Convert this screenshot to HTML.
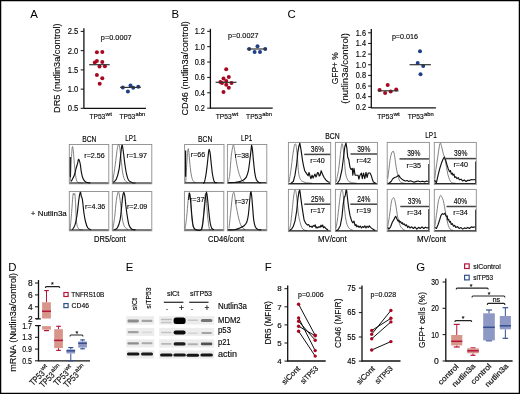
<!DOCTYPE html>
<html><head><meta charset="utf-8"><title>Figure</title>
<style>
html,body{margin:0;padding:0;background:#fff;}
body{width:520px;height:394px;overflow:hidden;font-family:"Liberation Sans",sans-serif;}
svg{display:block;will-change:transform;}
svg text{font-family:"Liberation Sans",sans-serif;}
</style></head>
<body>
<svg width="520" height="394" viewBox="0 0 520 394" font-family="Liberation Sans, sans-serif">
<rect x="0" y="0" width="520" height="394" fill="#fff"/>
<text id="t0" x="30.20" y="17.60" font-size="11.4" >A</text>
<line x1="83.90" y1="28.20" x2="83.90" y2="108.60" stroke="#111" stroke-width="1.3"/>
<line x1="80.70" y1="31.40" x2="83.90" y2="31.40" stroke="#111" stroke-width="1.0"/>
<text id="t1" x="78.30" y="34.32" font-size="8.6" text-anchor="end" textLength="10.60" lengthAdjust="spacingAndGlyphs" stroke="#111" stroke-width="0.15" >2.5</text>
<line x1="80.70" y1="50.65" x2="83.90" y2="50.65" stroke="#111" stroke-width="1.0"/>
<text id="t2" x="78.30" y="53.57" font-size="8.6" text-anchor="end" textLength="10.60" lengthAdjust="spacingAndGlyphs" stroke="#111" stroke-width="0.15" >2.0</text>
<line x1="80.70" y1="69.90" x2="83.90" y2="69.90" stroke="#111" stroke-width="1.0"/>
<text id="t3" x="78.30" y="72.82" font-size="8.6" text-anchor="end" textLength="10.60" lengthAdjust="spacingAndGlyphs" stroke="#111" stroke-width="0.15" >1.5</text>
<line x1="80.70" y1="89.15" x2="83.90" y2="89.15" stroke="#111" stroke-width="1.0"/>
<text id="t4" x="78.30" y="92.07" font-size="8.6" text-anchor="end" textLength="10.60" lengthAdjust="spacingAndGlyphs" stroke="#111" stroke-width="0.15" >1.0</text>
<line x1="80.70" y1="108.30" x2="83.90" y2="108.30" stroke="#111" stroke-width="1.0"/>
<text id="t5" x="78.30" y="111.22" font-size="8.6" text-anchor="end" textLength="10.60" lengthAdjust="spacingAndGlyphs" stroke="#111" stroke-width="0.15" >0.5</text>
<line x1="83.90" y1="108.30" x2="146.00" y2="108.30" stroke="#111" stroke-width="1.3"/>
<text id="t6" x="60.50" y="112.90" font-size="9.2" textLength="89.40" lengthAdjust="spacingAndGlyphs" transform="rotate(-90 60.50 112.90)" stroke="#111" stroke-width="0.1" >DR5 (nutlin3a/control)</text>
<text id="t7" x="100.80" y="40.40" font-size="7.6" textLength="30.90" lengthAdjust="spacingAndGlyphs" stroke="#111" stroke-width="0.15" >p=0.0007</text>
<circle cx="96.90" cy="52.30" r="2.0" fill="#a8081f"/>
<circle cx="102.30" cy="52.10" r="2.0" fill="#a8081f"/>
<circle cx="94.80" cy="62.40" r="2.0" fill="#a8081f"/>
<circle cx="96.90" cy="61.00" r="2.0" fill="#a8081f"/>
<circle cx="102.30" cy="61.90" r="2.0" fill="#a8081f"/>
<circle cx="99.50" cy="66.50" r="2.0" fill="#a8081f"/>
<circle cx="104.90" cy="66.20" r="2.0" fill="#a8081f"/>
<circle cx="96.90" cy="75.10" r="2.0" fill="#a8081f"/>
<circle cx="102.30" cy="78.20" r="2.0" fill="#a8081f"/>
<circle cx="99.70" cy="83.80" r="2.0" fill="#a8081f"/>
<line x1="89.20" y1="64.70" x2="109.70" y2="64.70" stroke="#333" stroke-width="1.2"/>
<circle cx="122.80" cy="87.50" r="2.0" fill="#1f3f86"/>
<circle cx="127.90" cy="91.50" r="2.0" fill="#1f3f86"/>
<circle cx="130.50" cy="85.50" r="2.0" fill="#1f3f86"/>
<circle cx="133.20" cy="87.80" r="2.0" fill="#1f3f86"/>
<circle cx="138.30" cy="86.80" r="2.0" fill="#1f3f86"/>
<line x1="120.10" y1="87.40" x2="140.80" y2="87.40" stroke="#333" stroke-width="1.2"/>
<text id="t8" x="89.40" y="119.00" font-size="8.0" textLength="15.90" lengthAdjust="spacingAndGlyphs" stroke="#111" stroke-width="0.15" >TP53</text>
<text id="t9" x="105.60" y="115.60" font-size="5.0" textLength="6.30" lengthAdjust="spacingAndGlyphs" stroke="#111" stroke-width="0.15" >wt</text>
<text id="t10" x="119.40" y="119.00" font-size="8.0" textLength="15.90" lengthAdjust="spacingAndGlyphs" stroke="#111" stroke-width="0.15" >TP53</text>
<text id="t11" x="135.60" y="115.60" font-size="5.0" textLength="9.60" lengthAdjust="spacingAndGlyphs" stroke="#111" stroke-width="0.15" >abn</text>
<text id="t12" x="171.60" y="17.70" font-size="11.4" >B</text>
<line x1="210.40" y1="28.80" x2="210.40" y2="108.70" stroke="#111" stroke-width="1.3"/>
<line x1="207.20" y1="31.30" x2="210.40" y2="31.30" stroke="#111" stroke-width="1.0"/>
<text id="t13" x="204.90" y="34.22" font-size="8.6" text-anchor="end" textLength="10.20" lengthAdjust="spacingAndGlyphs" stroke="#111" stroke-width="0.15" >1.2</text>
<line x1="207.20" y1="46.67" x2="210.40" y2="46.67" stroke="#111" stroke-width="1.0"/>
<text id="t14" x="204.90" y="49.59" font-size="8.6" text-anchor="end" textLength="10.20" lengthAdjust="spacingAndGlyphs" stroke="#111" stroke-width="0.15" >1.0</text>
<line x1="207.20" y1="62.04" x2="210.40" y2="62.04" stroke="#111" stroke-width="1.0"/>
<text id="t15" x="204.90" y="64.96" font-size="8.6" text-anchor="end" textLength="10.20" lengthAdjust="spacingAndGlyphs" stroke="#111" stroke-width="0.15" >0.8</text>
<line x1="207.20" y1="77.41" x2="210.40" y2="77.41" stroke="#111" stroke-width="1.0"/>
<text id="t16" x="204.90" y="80.33" font-size="8.6" text-anchor="end" textLength="10.20" lengthAdjust="spacingAndGlyphs" stroke="#111" stroke-width="0.15" >0.6</text>
<line x1="207.20" y1="92.78" x2="210.40" y2="92.78" stroke="#111" stroke-width="1.0"/>
<text id="t17" x="204.90" y="95.70" font-size="8.6" text-anchor="end" textLength="10.20" lengthAdjust="spacingAndGlyphs" stroke="#111" stroke-width="0.15" >0.4</text>
<line x1="207.20" y1="108.15" x2="210.40" y2="108.15" stroke="#111" stroke-width="1.0"/>
<text id="t18" x="204.90" y="111.07" font-size="8.6" text-anchor="end" textLength="10.20" lengthAdjust="spacingAndGlyphs" stroke="#111" stroke-width="0.15" >0.2</text>
<line x1="210.40" y1="108.20" x2="272.70" y2="108.20" stroke="#111" stroke-width="1.3"/>
<text id="t19" x="187.70" y="115.60" font-size="9.0" textLength="94.40" lengthAdjust="spacingAndGlyphs" transform="rotate(-90 187.70 115.60)" stroke="#111" stroke-width="0.1" >CD46 (nutlin3a/control)</text>
<text id="t20" x="228.00" y="38.30" font-size="7.6" textLength="30.50" lengthAdjust="spacingAndGlyphs" stroke="#111" stroke-width="0.15" >p=0.0027</text>
<circle cx="226.20" cy="69.20" r="2.0" fill="#a8081f"/>
<circle cx="223.50" cy="78.50" r="2.0" fill="#a8081f"/>
<circle cx="228.80" cy="77.10" r="2.0" fill="#a8081f"/>
<circle cx="220.40" cy="81.90" r="2.0" fill="#a8081f"/>
<circle cx="222.00" cy="82.90" r="2.0" fill="#a8081f"/>
<circle cx="226.20" cy="81.00" r="2.0" fill="#a8081f"/>
<circle cx="231.50" cy="82.90" r="2.0" fill="#a8081f"/>
<circle cx="226.20" cy="84.80" r="2.0" fill="#a8081f"/>
<circle cx="228.80" cy="87.70" r="2.0" fill="#a8081f"/>
<circle cx="223.50" cy="92.10" r="2.0" fill="#a8081f"/>
<line x1="215.60" y1="82.30" x2="236.50" y2="82.30" stroke="#333" stroke-width="1.2"/>
<circle cx="249.20" cy="49.00" r="2.0" fill="#1f3f86"/>
<circle cx="254.60" cy="51.90" r="2.0" fill="#1f3f86"/>
<circle cx="257.50" cy="46.20" r="2.0" fill="#1f3f86"/>
<circle cx="260.00" cy="51.90" r="2.0" fill="#1f3f86"/>
<circle cx="265.20" cy="49.00" r="2.0" fill="#1f3f86"/>
<line x1="246.90" y1="49.00" x2="267.00" y2="49.00" stroke="#333" stroke-width="1.2"/>
<text id="t21" x="215.80" y="119.20" font-size="8.0" textLength="15.90" lengthAdjust="spacingAndGlyphs" stroke="#111" stroke-width="0.15" >TP53</text>
<text id="t22" x="232.00" y="115.80" font-size="5.0" textLength="6.30" lengthAdjust="spacingAndGlyphs" stroke="#111" stroke-width="0.15" >wt</text>
<text id="t23" x="246.10" y="119.20" font-size="8.0" textLength="15.90" lengthAdjust="spacingAndGlyphs" stroke="#111" stroke-width="0.15" >TP53</text>
<text id="t24" x="262.30" y="115.80" font-size="5.0" textLength="9.60" lengthAdjust="spacingAndGlyphs" stroke="#111" stroke-width="0.15" >abn</text>
<text id="t25" x="287.60" y="17.70" font-size="11.4" >C</text>
<line x1="371.30" y1="29.00" x2="371.30" y2="108.30" stroke="#111" stroke-width="1.3"/>
<line x1="368.10" y1="32.80" x2="371.30" y2="32.80" stroke="#111" stroke-width="1.0"/>
<text id="t26" x="366.00" y="35.59" font-size="8.2" text-anchor="end" textLength="10.20" lengthAdjust="spacingAndGlyphs" stroke="#111" stroke-width="0.15" >1.6</text>
<line x1="368.10" y1="43.45" x2="371.30" y2="43.45" stroke="#111" stroke-width="1.0"/>
<text id="t27" x="366.00" y="46.24" font-size="8.2" text-anchor="end" textLength="10.20" lengthAdjust="spacingAndGlyphs" stroke="#111" stroke-width="0.15" >1.4</text>
<line x1="368.10" y1="54.10" x2="371.30" y2="54.10" stroke="#111" stroke-width="1.0"/>
<text id="t28" x="366.00" y="56.89" font-size="8.2" text-anchor="end" textLength="10.20" lengthAdjust="spacingAndGlyphs" stroke="#111" stroke-width="0.15" >1.2</text>
<line x1="368.10" y1="64.75" x2="371.30" y2="64.75" stroke="#111" stroke-width="1.0"/>
<text id="t29" x="366.00" y="67.54" font-size="8.2" text-anchor="end" textLength="10.20" lengthAdjust="spacingAndGlyphs" stroke="#111" stroke-width="0.15" >1.0</text>
<line x1="368.10" y1="75.40" x2="371.30" y2="75.40" stroke="#111" stroke-width="1.0"/>
<text id="t30" x="366.00" y="78.19" font-size="8.2" text-anchor="end" textLength="10.20" lengthAdjust="spacingAndGlyphs" stroke="#111" stroke-width="0.15" >0.8</text>
<line x1="368.10" y1="86.05" x2="371.30" y2="86.05" stroke="#111" stroke-width="1.0"/>
<text id="t31" x="366.00" y="88.84" font-size="8.2" text-anchor="end" textLength="10.20" lengthAdjust="spacingAndGlyphs" stroke="#111" stroke-width="0.15" >0.6</text>
<line x1="368.10" y1="96.70" x2="371.30" y2="96.70" stroke="#111" stroke-width="1.0"/>
<text id="t32" x="366.00" y="99.49" font-size="8.2" text-anchor="end" textLength="10.20" lengthAdjust="spacingAndGlyphs" stroke="#111" stroke-width="0.15" >0.4</text>
<line x1="368.10" y1="107.35" x2="371.30" y2="107.35" stroke="#111" stroke-width="1.0"/>
<text id="t33" x="366.00" y="110.14" font-size="8.2" text-anchor="end" textLength="10.20" lengthAdjust="spacingAndGlyphs" stroke="#111" stroke-width="0.15" >0.2</text>
<line x1="371.30" y1="107.80" x2="435.90" y2="107.80" stroke="#111" stroke-width="1.3"/>
<text id="t34" x="337.70" y="84.20" font-size="9.2" textLength="31.90" lengthAdjust="spacingAndGlyphs" transform="rotate(-90 337.70 84.20)" stroke="#111" stroke-width="0.1" >GFP+ %</text>
<text id="t35" x="348.40" y="103.70" font-size="9.2" textLength="70.70" lengthAdjust="spacingAndGlyphs" transform="rotate(-90 348.40 103.70)" stroke="#111" stroke-width="0.1" >(nutlin3a/control)</text>
<text id="t36" x="391.90" y="39.20" font-size="7.6" textLength="26.10" lengthAdjust="spacingAndGlyphs" stroke="#111" stroke-width="0.15" >p=0.016</text>
<circle cx="379.60" cy="90.10" r="2.0" fill="#a8081f"/>
<circle cx="385.10" cy="93.10" r="2.0" fill="#a8081f"/>
<circle cx="387.70" cy="85.00" r="2.0" fill="#a8081f"/>
<circle cx="390.70" cy="91.50" r="2.0" fill="#a8081f"/>
<circle cx="396.20" cy="89.60" r="2.0" fill="#a8081f"/>
<line x1="377.70" y1="90.80" x2="398.50" y2="90.80" stroke="#333" stroke-width="1.2"/>
<circle cx="420.00" cy="51.20" r="2.0" fill="#1f3f86"/>
<circle cx="417.70" cy="63.10" r="2.0" fill="#1f3f86"/>
<circle cx="423.20" cy="66.10" r="2.0" fill="#1f3f86"/>
<circle cx="420.50" cy="74.20" r="2.0" fill="#1f3f86"/>
<line x1="409.60" y1="64.70" x2="430.90" y2="64.70" stroke="#333" stroke-width="1.2"/>
<text id="t37" x="377.30" y="119.20" font-size="8.0" textLength="15.90" lengthAdjust="spacingAndGlyphs" stroke="#111" stroke-width="0.15" >TP53</text>
<text id="t38" x="393.50" y="115.80" font-size="5.0" textLength="6.30" lengthAdjust="spacingAndGlyphs" stroke="#111" stroke-width="0.15" >wt</text>
<text id="t39" x="407.80" y="119.20" font-size="8.0" textLength="15.90" lengthAdjust="spacingAndGlyphs" stroke="#111" stroke-width="0.15" >TP53</text>
<text id="t40" x="424.00" y="115.80" font-size="5.0" textLength="9.60" lengthAdjust="spacingAndGlyphs" stroke="#111" stroke-width="0.15" >abn</text>
<rect x="69.30" y="144.50" width="39.50" height="39.30" fill="none" stroke="#8c8c8c" stroke-width="0.9"/>
<path d="M70.30,181.40 C70.53,176.78 71.33,159.52 71.70,153.70 C72.07,147.88 72.22,146.78 72.50,146.50 C72.78,146.22 73.08,149.03 73.40,152.00 C73.72,154.97 73.97,159.93 74.40,164.30 C74.83,168.67 75.38,175.18 76.00,178.20 C76.62,181.22 76.93,181.58 78.10,182.40 C79.27,183.22 82.18,182.98 83.00,183.10" fill="none" stroke="#727272" stroke-width="0.9"/>
<line x1="69.80" y1="182.90" x2="108.30" y2="182.90" stroke="#111" stroke-width="0.9"/>
<path d="M71.20,181.60 C71.73,180.50 73.60,177.17 74.40,175.00 C75.20,172.83 75.47,170.55 76.00,168.60 C76.53,166.65 77.15,164.85 77.60,163.30 C78.05,161.75 78.25,159.13 78.70,159.30 C79.15,159.47 79.87,162.22 80.30,164.30 C80.73,166.38 80.87,169.48 81.30,171.80 C81.73,174.12 82.18,176.52 82.90,178.20 C83.62,179.88 84.35,181.10 85.60,181.90 C86.85,182.70 89.60,182.82 90.40,183.00" fill="none" stroke="#111" stroke-width="1.15" stroke-linejoin="round"/>
<line x1="70.30" y1="157.00" x2="70.30" y2="176.90" stroke="#111" stroke-width="1.2"/>
<rect x="112.30" y="144.50" width="39.50" height="39.30" fill="none" stroke="#8c8c8c" stroke-width="0.9"/>
<path d="M112.80,181.40 C113.22,178.55 114.62,169.28 115.30,164.30 C115.98,159.32 116.42,154.70 116.90,151.50 C117.38,148.30 117.77,145.98 118.20,145.10 C118.63,144.22 119.02,143.88 119.50,146.20 C119.98,148.52 120.57,154.55 121.10,159.00 C121.63,163.45 122.07,169.35 122.70,172.90 C123.33,176.45 124.00,178.67 124.90,180.30 C125.80,181.93 127.57,182.30 128.10,182.70" fill="none" stroke="#727272" stroke-width="0.9"/>
<line x1="112.80" y1="182.90" x2="151.30" y2="182.90" stroke="#111" stroke-width="0.9"/>
<path d="M113.10,182.40 C113.63,181.87 115.32,181.32 116.30,179.20 C117.28,177.08 118.28,173.60 119.00,169.70 C119.72,165.80 120.10,159.90 120.60,155.80 C121.10,151.70 121.55,145.82 122.00,145.10 C122.45,144.38 122.82,148.30 123.30,151.50 C123.78,154.70 124.37,160.57 124.90,164.30 C125.43,168.03 125.88,171.23 126.50,173.90 C127.12,176.57 127.63,178.83 128.60,180.30 C129.57,181.77 131.15,182.25 132.30,182.70 C133.45,183.15 134.97,182.95 135.50,183.00" fill="none" stroke="#111" stroke-width="1.15" stroke-linejoin="round"/>
<rect x="69.30" y="191.50" width="39.50" height="39.30" fill="none" stroke="#8c8c8c" stroke-width="0.9"/>
<path d="M70.10,229.40 C70.37,226.38 71.25,216.80 71.70,211.30 C72.15,205.80 72.50,199.42 72.80,196.40 C73.10,193.38 73.27,193.43 73.50,193.20 C73.73,192.97 73.97,194.82 74.20,195.00 C74.43,195.18 74.65,192.47 74.90,194.30 C75.15,196.13 75.43,201.38 75.70,206.00 C75.97,210.62 76.00,218.18 76.50,222.00 C77.00,225.82 77.63,227.57 78.70,228.90 C79.77,230.23 82.20,229.82 82.90,230.00" fill="none" stroke="#727272" stroke-width="0.9"/>
<line x1="69.80" y1="229.90" x2="108.30" y2="229.90" stroke="#111" stroke-width="0.9"/>
<path d="M72.30,229.70 C72.73,228.95 74.10,227.73 74.90,225.20 C75.70,222.67 76.47,218.58 77.10,214.50 C77.73,210.42 78.27,204.07 78.70,200.70 C79.13,197.33 79.38,195.70 79.70,194.30 C80.02,192.90 80.33,191.95 80.60,192.30 C80.87,192.65 81.00,195.18 81.30,196.40 C81.60,197.62 81.95,196.75 82.40,199.60 C82.85,202.45 83.47,209.77 84.00,213.50 C84.53,217.23 84.98,219.62 85.60,222.00 C86.22,224.38 86.82,226.48 87.70,227.80 C88.58,229.12 90.37,229.55 90.90,229.90" fill="none" stroke="#111" stroke-width="1.15" stroke-linejoin="round"/>
<rect x="112.30" y="191.50" width="39.50" height="39.30" fill="none" stroke="#8c8c8c" stroke-width="0.9"/>
<path d="M112.90,228.90 C113.20,226.87 114.13,221.40 114.70,216.70 C115.27,212.00 115.77,204.70 116.30,200.70 C116.83,196.70 117.45,193.95 117.90,192.70 C118.35,191.45 118.55,191.33 119.00,193.20 C119.45,195.07 120.07,199.82 120.60,203.90 C121.13,207.98 121.58,213.98 122.20,217.70 C122.82,221.42 123.32,224.20 124.30,226.20 C125.28,228.20 127.47,229.12 128.10,229.70" fill="none" stroke="#727272" stroke-width="0.9"/>
<line x1="112.80" y1="229.90" x2="151.30" y2="229.90" stroke="#111" stroke-width="0.9"/>
<path d="M114.20,229.90 C114.73,229.55 116.42,229.47 117.40,227.80 C118.38,226.13 119.38,223.53 120.10,219.90 C120.82,216.27 121.27,209.92 121.70,206.00 C122.13,202.08 122.35,198.68 122.70,196.40 C123.05,194.12 123.43,192.30 123.80,192.30 C124.17,192.30 124.55,194.12 124.90,196.40 C125.25,198.68 125.47,202.45 125.90,206.00 C126.33,209.55 126.97,214.50 127.50,217.70 C128.03,220.90 128.38,223.28 129.10,225.20 C129.82,227.12 130.73,228.42 131.80,229.20 C132.87,229.98 134.88,229.78 135.50,229.90" fill="none" stroke="#111" stroke-width="1.15" stroke-linejoin="round"/>
<rect x="184.60" y="144.50" width="39.40" height="39.10" fill="none" stroke="#8c8c8c" stroke-width="0.9"/>
<path d="M185.70,182.40 C185.93,178.50 186.70,164.58 187.10,159.00 C187.50,153.42 187.80,149.97 188.10,148.90 C188.40,147.83 188.60,150.03 188.90,152.60 C189.20,155.17 189.50,160.57 189.90,164.30 C190.30,168.03 190.77,172.25 191.30,175.00 C191.83,177.75 192.35,179.52 193.10,180.80 C193.85,182.08 195.35,182.38 195.80,182.70" fill="none" stroke="#727272" stroke-width="0.9"/>
<line x1="185.10" y1="182.70" x2="223.50" y2="182.70" stroke="#111" stroke-width="0.9"/>
<path d="M203.00,182.80 C203.22,182.73 203.82,183.70 204.30,182.40 C204.78,181.10 205.40,178.02 205.90,175.00 C206.40,171.98 206.88,167.85 207.30,164.30 C207.72,160.75 208.10,156.18 208.40,153.70 C208.70,151.22 208.80,149.40 209.10,149.40 C209.40,149.40 209.83,151.22 210.20,153.70 C210.57,156.18 210.90,160.75 211.30,164.30 C211.70,167.85 212.08,172.07 212.60,175.00 C213.12,177.93 213.65,180.60 214.40,181.90 C215.15,183.20 216.65,182.65 217.10,182.80" fill="none" stroke="#111" stroke-width="1.15" stroke-linejoin="round"/>
<line x1="185.60" y1="150.50" x2="185.60" y2="176.70" stroke="#111" stroke-width="1.2"/>
<rect x="227.40" y="144.50" width="39.40" height="39.00" fill="none" stroke="#8c8c8c" stroke-width="0.9"/>
<path d="M228.10,181.90 C228.37,180.75 229.17,179.35 229.70,175.00 C230.23,170.65 230.72,160.75 231.30,155.80 C231.88,150.85 232.67,146.37 233.20,145.30 C233.73,144.23 234.02,146.93 234.50,149.40 C234.98,151.87 235.57,156.90 236.10,160.10 C236.63,163.30 237.07,165.95 237.70,168.60 C238.33,171.25 239.18,174.05 239.90,176.00 C240.62,177.95 241.20,179.23 242.00,180.30 C242.80,181.37 244.25,182.05 244.70,182.40" fill="none" stroke="#727272" stroke-width="0.9"/>
<line x1="227.90" y1="182.60" x2="266.30" y2="182.60" stroke="#111" stroke-width="0.9"/>
<path d="M228.10,182.70 C229.17,182.67 232.72,182.63 234.50,182.50 C236.28,182.37 237.37,182.27 238.80,181.90 C240.23,181.53 241.85,181.10 243.10,180.30 C244.35,179.50 245.42,178.70 246.30,177.10 C247.18,175.50 247.78,173.72 248.40,170.70 C249.02,167.68 249.55,162.55 250.00,159.00 C250.45,155.45 250.83,151.72 251.10,149.40 C251.37,147.08 251.38,145.10 251.60,145.10 C251.82,145.10 252.08,146.73 252.40,149.40 C252.72,152.07 253.10,157.18 253.50,161.10 C253.90,165.02 254.32,169.78 254.80,172.90 C255.28,176.02 255.70,178.20 256.40,179.80 C257.10,181.40 258.20,182.02 259.00,182.50 C259.80,182.98 260.83,182.67 261.20,182.70" fill="none" stroke="#111" stroke-width="1.15" stroke-linejoin="round"/>
<rect x="184.40" y="191.40" width="39.40" height="39.40" fill="none" stroke="#8c8c8c" stroke-width="0.9"/>
<path d="M185.10,228.90 C185.37,226.87 186.20,221.40 186.70,216.70 C187.20,212.00 187.68,204.70 188.10,200.70 C188.52,196.70 188.80,192.70 189.20,192.70 C189.60,192.70 190.08,196.70 190.50,200.70 C190.92,204.70 191.27,212.45 191.70,216.70 C192.13,220.95 192.50,224.08 193.10,226.20 C193.70,228.32 194.93,228.87 195.30,229.40" fill="none" stroke="#727272" stroke-width="0.9"/>
<path d="M201.50,229.50 C201.75,227.92 202.53,224.08 203.00,220.00 C203.47,215.92 203.90,209.42 204.30,205.00 C204.70,200.58 205.05,194.33 205.40,193.50 C205.75,192.67 206.03,196.25 206.40,200.00 C206.77,203.75 207.12,211.25 207.60,216.00 C208.08,220.75 208.73,226.20 209.30,228.50 C209.87,230.80 210.72,229.58 211.00,229.80" fill="none" stroke="#727272" stroke-width="0.9"/>
<line x1="184.90" y1="229.90" x2="223.30" y2="229.90" stroke="#111" stroke-width="0.9"/>
<path d="M188.60,200.00 C188.77,198.87 189.25,193.03 189.60,193.20 C189.95,193.37 190.32,197.20 190.70,201.00 C191.08,204.80 191.47,211.75 191.90,216.00 C192.33,220.25 192.70,224.23 193.30,226.50 C193.90,228.77 194.20,229.07 195.50,229.60 C196.80,230.13 199.90,230.62 201.10,229.70 C202.30,228.78 202.20,227.17 202.70,224.10 C203.20,221.03 203.65,215.57 204.10,211.30 C204.55,207.03 205.00,201.70 205.40,198.50 C205.80,195.30 206.15,192.10 206.50,192.10 C206.85,192.10 207.12,195.30 207.50,198.50 C207.88,201.70 208.35,207.22 208.80,211.30 C209.25,215.38 209.70,220.15 210.20,223.00 C210.70,225.85 211.18,227.27 211.80,228.40 C212.42,229.53 213.55,229.57 213.90,229.80" fill="none" stroke="#111" stroke-width="1.15" stroke-linejoin="round"/>
<rect x="227.40" y="191.40" width="39.40" height="39.40" fill="none" stroke="#8c8c8c" stroke-width="0.9"/>
<path d="M229.00,228.40 C229.30,225.55 230.23,216.63 230.80,211.30 C231.37,205.97 231.92,199.57 232.40,196.40 C232.88,193.23 233.35,192.65 233.70,192.30 C234.05,191.95 234.15,192.37 234.50,194.30 C234.85,196.23 235.35,201.07 235.80,203.90 C236.25,206.73 236.70,208.82 237.20,211.30 C237.70,213.78 238.27,216.67 238.80,218.80 C239.33,220.93 239.78,222.60 240.40,224.10 C241.02,225.60 241.70,226.87 242.50,227.80 C243.30,228.73 244.75,229.38 245.20,229.70" fill="none" stroke="#727272" stroke-width="0.9"/>
<line x1="227.90" y1="229.90" x2="266.30" y2="229.90" stroke="#111" stroke-width="0.9"/>
<path d="M228.10,229.90 C229.17,229.88 232.72,230.05 234.50,229.80 C236.28,229.55 237.20,229.08 238.80,228.40 C240.40,227.72 242.77,226.77 244.10,225.70 C245.43,224.63 246.08,223.87 246.80,222.00 C247.52,220.13 247.92,218.05 248.40,214.50 C248.88,210.95 249.32,204.43 249.70,200.70 C250.08,196.97 250.38,193.00 250.70,192.10 C251.02,191.20 251.27,192.63 251.60,195.30 C251.93,197.97 252.35,204.00 252.70,208.10 C253.05,212.20 253.27,216.78 253.70,219.90 C254.13,223.02 254.58,225.18 255.30,226.80 C256.02,228.42 257.02,229.08 258.00,229.60 C258.98,230.12 260.67,229.85 261.20,229.90" fill="none" stroke="#111" stroke-width="1.15" stroke-linejoin="round"/>
<rect x="288.40" y="142.40" width="42.30" height="42.00" fill="none" stroke="#8c8c8c" stroke-width="0.9"/>
<path d="M289.10,182.10 C289.42,180.00 290.40,173.88 291.00,169.50 C291.60,165.12 292.13,159.78 292.70,155.80 C293.27,151.82 293.98,147.58 294.40,145.60 C294.82,143.62 294.92,143.90 295.20,143.90 C295.48,143.90 295.75,143.62 296.10,145.60 C296.45,147.58 296.92,151.62 297.30,155.80 C297.68,159.98 298.02,167.08 298.40,170.70 C298.78,174.32 299.03,175.78 299.60,177.50 C300.17,179.22 300.67,180.13 301.80,181.00 C302.93,181.87 304.68,182.33 306.40,182.70 C308.12,183.07 311.15,183.12 312.10,183.20" fill="none" stroke="#727272" stroke-width="0.9"/>
<line x1="288.90" y1="183.50" x2="330.20" y2="183.50" stroke="#111" stroke-width="0.9"/>
<path d="M291.00,183.20 L293.30,181.50 L295.00,175.20 L296.70,163.80 L297.80,152.40 L299.00,145.60 L299.80,143.10 L300.70,147.80 L301.60,153.60 L302.40,159.80 L303.60,166.10 L304.70,170.70 L305.80,172.40 L307.00,174.10 L308.10,175.80 L309.00,172.50 L309.80,175.20 L311.00,178.70 L312.10,175.20 L313.10,178.00 L313.80,176.40 L315.00,174.10 L316.00,177.00 L316.70,175.20 L317.60,172.50 L318.40,173.00 L319.20,176.00 L320.10,175.20 L321.20,170.70 L322.40,174.10 L324.10,177.50 L325.80,179.80 L327.50,181.50 L329.80,182.60" fill="none" stroke="#111" stroke-width="1.15" stroke-linejoin="round"/>
<rect x="335.40" y="142.40" width="42.00" height="42.00" fill="none" stroke="#8c8c8c" stroke-width="0.9"/>
<path d="M336.10,182.10 C336.52,180.00 337.90,174.07 338.60,169.50 C339.30,164.93 339.77,158.97 340.30,154.70 C340.83,150.43 341.33,145.05 341.80,143.90 C342.27,142.75 342.68,145.23 343.10,147.80 C343.52,150.37 343.92,155.30 344.30,159.30 C344.68,163.30 344.93,168.57 345.40,171.80 C345.87,175.03 346.33,176.98 347.10,178.70 C347.87,180.42 348.38,181.33 350.00,182.10 C351.62,182.87 355.67,183.10 356.80,183.30" fill="none" stroke="#727272" stroke-width="0.9"/>
<line x1="335.90" y1="183.50" x2="376.90" y2="183.50" stroke="#111" stroke-width="0.9"/>
<path d="M337.40,183.20 L339.70,179.80 L342.00,169.50 L343.70,155.80 L344.80,146.70 L346.00,143.00 L346.80,147.80 L347.70,157.00 L348.80,159.80 L350.00,167.30 L351.10,169.50 L352.30,168.40 L352.80,175.20 L354.00,168.40 L355.10,175.20 L356.80,175.20 L358.00,175.20 L358.90,179.20 L360.00,175.20 L361.40,173.00 L362.30,178.70 L363.50,173.00 L364.80,178.70 L366.00,172.40 L367.10,177.50 L368.20,173.00 L370.00,173.00 L371.10,175.20 L372.20,178.70 L373.40,182.10 L375.70,183.30" fill="none" stroke="#111" stroke-width="1.15" stroke-linejoin="round"/>
<rect x="387.20" y="142.40" width="42.20" height="42.00" fill="none" stroke="#8c8c8c" stroke-width="0.9"/>
<path d="M387.70,178.70 C387.90,177.17 388.52,172.55 388.90,169.50 C389.28,166.45 389.63,162.87 390.00,160.40 C390.37,157.93 390.72,156.13 391.10,154.70 C391.48,153.27 391.92,152.37 392.30,151.80 C392.68,151.23 393.02,150.63 393.40,151.30 C393.78,151.97 394.22,153.72 394.60,155.80 C394.98,157.88 395.33,161.32 395.70,163.80 C396.07,166.28 396.42,168.80 396.80,170.70 C397.18,172.60 397.62,173.68 398.00,175.20 C398.38,176.72 398.63,178.65 399.10,179.80 C399.57,180.95 399.93,181.52 400.80,182.10 C401.67,182.68 403.72,183.10 404.30,183.30" fill="none" stroke="#727272" stroke-width="0.9"/>
<line x1="387.70" y1="183.50" x2="428.90" y2="183.50" stroke="#111" stroke-width="0.9"/>
<path d="M387.70,183.30 L389.40,183.00 L391.10,181.50 L392.80,178.70 L394.60,177.50 L396.30,177.00 L398.00,175.80 L398.80,175.20 L399.70,177.00 L400.80,178.10 L402.00,179.20 L403.70,180.40 L405.40,181.00 L407.00,180.50 L408.80,181.50 L410.50,180.80 L412.30,181.50 L414.00,182.20 L415.70,181.60 L418.00,181.00 L420.20,181.80 L422.50,181.20 L424.80,181.90 L426.50,181.00 L428.50,181.50" fill="none" stroke="#111" stroke-width="1.15" stroke-linejoin="round"/>
<line x1="428.60" y1="164.00" x2="428.60" y2="183.50" stroke="#333" stroke-width="0.9"/>
<rect x="434.30" y="142.40" width="42.00" height="42.00" fill="none" stroke="#8c8c8c" stroke-width="0.9"/>
<path d="M434.80,178.70 C434.98,177.17 435.43,172.93 435.90,169.50 C436.37,166.07 437.03,161.90 437.60,158.10 C438.17,154.30 438.83,149.22 439.30,146.70 C439.77,144.18 440.02,143.00 440.40,143.00 C440.78,143.00 441.12,144.93 441.60,146.70 C442.08,148.47 442.73,151.50 443.30,153.60 C443.87,155.70 444.47,157.02 445.00,159.30 C445.53,161.58 446.03,164.83 446.50,167.30 C446.97,169.77 447.28,172.02 447.80,174.10 C448.32,176.18 448.93,178.37 449.60,179.80 C450.27,181.23 450.77,182.12 451.80,182.70 C452.83,183.28 455.13,183.20 455.80,183.30" fill="none" stroke="#727272" stroke-width="0.9"/>
<line x1="434.80" y1="183.50" x2="475.80" y2="183.50" stroke="#111" stroke-width="0.9"/>
<path d="M434.80,179.80 L435.30,181.50 L436.40,182.70 L438.10,175.20 L439.80,168.40 L441.60,162.70 L443.00,159.30 L444.40,157.00 L445.60,159.80 L446.70,163.80 L448.10,168.40 L449.60,171.80 L450.50,170.50 L451.30,174.10 L452.20,173.00 L453.00,175.20 L454.00,174.20 L454.70,177.50 L455.80,176.80 L457.00,178.70 L458.20,177.60 L459.30,179.80 L461.00,179.20 L462.70,181.00 L464.40,180.00 L466.10,181.50 L467.80,180.20 L469.50,180.40 L471.30,179.50 L473.00,179.80 L475.50,179.60" fill="none" stroke="#111" stroke-width="1.15" stroke-linejoin="round"/>
<line x1="475.50" y1="161.50" x2="475.50" y2="183.50" stroke="#333" stroke-width="0.9"/>
<rect x="288.40" y="189.40" width="42.30" height="42.20" fill="none" stroke="#8c8c8c" stroke-width="0.9"/>
<path d="M288.90,229.10 C289.15,228.53 289.87,228.75 290.40,225.70 C290.93,222.65 291.62,215.18 292.10,210.80 C292.58,206.42 292.92,202.63 293.30,199.40 C293.68,196.17 294.08,192.97 294.40,191.40 C294.72,189.83 294.92,189.80 295.20,190.00 C295.48,190.20 295.75,190.47 296.10,192.60 C296.45,194.73 296.92,199.18 297.30,202.80 C297.68,206.42 297.93,211.07 298.40,214.30 C298.87,217.53 299.53,220.02 300.10,222.20 C300.67,224.38 301.13,226.10 301.80,227.40 C302.47,228.70 303.23,229.48 304.10,230.00 C304.97,230.52 306.52,230.42 307.00,230.50" fill="none" stroke="#727272" stroke-width="0.9"/>
<line x1="288.90" y1="230.70" x2="330.20" y2="230.70" stroke="#111" stroke-width="0.9"/>
<path d="M289.30,230.50 L291.60,229.10 L293.30,226.20 L295.00,221.10 L296.70,210.80 L297.80,199.40 L299.00,191.40 L299.80,190.00 L300.70,197.10 L301.80,205.10 L303.00,213.10 L304.10,220.00 L305.80,223.40 L307.50,225.10 L308.60,224.50 L309.80,226.80 L311.00,226.20 L312.10,227.40 L313.30,225.60 L314.40,226.20 L315.20,224.80 L316.10,228.00 L317.00,227.00 L317.80,228.00 L319.00,226.50 L320.10,227.40 L321.00,225.20 L321.80,226.60 L322.60,225.00 L323.50,227.70 L324.60,226.80 L325.80,228.50 L328.10,230.00" fill="none" stroke="#111" stroke-width="1.15" stroke-linejoin="round"/>
<rect x="335.40" y="189.40" width="42.00" height="42.20" fill="none" stroke="#8c8c8c" stroke-width="0.9"/>
<path d="M335.90,228.50 C336.15,227.08 336.87,223.90 337.40,220.00 C337.93,216.10 338.57,209.48 339.10,205.10 C339.63,200.72 340.15,196.22 340.60,193.70 C341.05,191.18 341.42,190.18 341.80,190.00 C342.18,189.82 342.53,190.47 342.90,192.60 C343.27,194.73 343.58,198.82 344.00,202.80 C344.42,206.78 344.88,212.88 345.40,216.50 C345.92,220.12 346.43,222.50 347.10,224.50 C347.77,226.50 348.45,227.55 349.40,228.50 C350.35,229.45 352.23,229.92 352.80,230.20" fill="none" stroke="#727272" stroke-width="0.9"/>
<line x1="335.90" y1="230.70" x2="376.90" y2="230.70" stroke="#111" stroke-width="0.9"/>
<path d="M335.90,230.60 L338.00,229.70 L340.30,225.70 L342.00,216.50 L343.10,205.10 L344.30,197.10 L345.20,196.00 L346.00,190.30 L346.60,190.00 L347.50,198.30 L348.60,207.40 L350.00,215.40 L351.70,221.10 L352.80,222.80 L354.00,221.10 L355.10,225.70 L356.00,224.50 L356.80,226.80 L358.00,225.80 L359.10,227.40 L360.20,226.00 L361.40,228.00 L362.50,226.60 L363.70,227.40 L364.80,225.90 L366.00,228.00 L367.00,226.20 L368.20,227.40 L369.30,225.80 L370.50,227.40 L372.80,229.10 L375.10,230.50" fill="none" stroke="#111" stroke-width="1.15" stroke-linejoin="round"/>
<rect x="387.20" y="189.40" width="42.20" height="42.20" fill="none" stroke="#8c8c8c" stroke-width="0.9"/>
<path d="M387.70,226.80 C387.98,225.08 388.92,219.73 389.40,216.50 C389.88,213.27 390.22,210.05 390.60,207.40 C390.98,204.75 391.33,202.12 391.70,200.60 C392.07,199.08 392.45,198.78 392.80,198.30 C393.15,197.82 393.45,197.32 393.80,197.70 C394.15,198.08 394.53,199.17 394.90,200.60 C395.27,202.03 395.62,204.02 396.00,206.30 C396.38,208.58 396.77,211.83 397.20,214.30 C397.63,216.77 398.08,219.20 398.60,221.10 C399.12,223.00 399.73,224.47 400.30,225.70 C400.87,226.93 401.25,227.75 402.00,228.50 C402.75,229.25 404.33,229.92 404.80,230.20" fill="none" stroke="#727272" stroke-width="0.9"/>
<line x1="387.70" y1="230.70" x2="428.90" y2="230.70" stroke="#111" stroke-width="0.9"/>
<path d="M387.70,227.40 L388.90,229.10 L390.60,226.80 L392.30,222.20 L394.00,219.40 L395.10,217.10 L395.70,216.30 L396.80,218.80 L398.00,221.10 L399.00,220.20 L399.70,222.20 L400.60,221.50 L401.40,223.40 L402.30,222.60 L403.10,224.50 L404.20,223.80 L405.40,225.70 L406.50,224.80 L407.70,227.40 L408.80,226.20 L410.00,228.00 L411.70,226.80 L413.40,228.50 L415.00,227.00 L416.80,229.10 L418.50,227.30 L420.20,228.50 L422.00,226.90 L423.70,228.50 L425.40,227.20 L427.10,228.00 L428.80,227.40" fill="none" stroke="#111" stroke-width="1.15" stroke-linejoin="round"/>
<line x1="428.60" y1="209.10" x2="428.60" y2="230.70" stroke="#333" stroke-width="0.9"/>
<rect x="434.30" y="189.40" width="42.00" height="42.20" fill="none" stroke="#8c8c8c" stroke-width="0.9"/>
<path d="M434.80,226.80 C435.07,224.90 435.85,219.40 436.40,215.40 C436.95,211.40 437.57,205.85 438.10,202.80 C438.63,199.75 439.15,198.33 439.60,197.10 C440.05,195.87 440.42,195.40 440.80,195.40 C441.18,195.40 441.48,196.23 441.90,197.10 C442.32,197.97 442.88,199.07 443.30,200.60 C443.72,202.13 444.02,204.22 444.40,206.30 C444.78,208.38 445.18,210.82 445.60,213.10 C446.02,215.38 446.43,217.90 446.90,220.00 C447.37,222.10 447.87,224.18 448.40,225.70 C448.93,227.22 449.33,228.30 450.10,229.10 C450.87,229.90 452.52,230.27 453.00,230.50" fill="none" stroke="#727272" stroke-width="0.9"/>
<line x1="434.80" y1="230.70" x2="475.80" y2="230.70" stroke="#111" stroke-width="0.9"/>
<path d="M434.80,227.40 L436.40,228.50 L438.10,224.50 L439.60,220.00 L441.00,215.40 L442.40,213.70 L443.80,214.30 L445.00,213.10 L445.80,215.50 L446.50,216.50 L447.20,215.80 L447.80,220.00 L448.70,219.40 L449.60,222.20 L450.40,221.40 L451.30,224.50 L452.40,223.60 L453.50,226.20 L454.60,225.40 L455.80,227.40 L457.50,226.60 L459.30,228.50 L461.00,227.60 L462.70,229.10 L464.40,227.90 L466.10,228.50 L467.80,227.40 L469.50,228.50 L471.30,226.90 L473.00,227.40 L475.50,226.80" fill="none" stroke="#111" stroke-width="1.15" stroke-linejoin="round"/>
<line x1="475.50" y1="209.70" x2="475.50" y2="230.70" stroke="#333" stroke-width="0.9"/>
<text id="t41" x="89.30" y="141.60" font-size="8.3" text-anchor="middle" textLength="14.20" lengthAdjust="spacingAndGlyphs" stroke="#111" stroke-width="0.15" >BCN</text>
<text id="t42" x="130.80" y="141.30" font-size="8.3" text-anchor="middle" textLength="11.20" lengthAdjust="spacingAndGlyphs" stroke="#111" stroke-width="0.15" >LP1</text>
<text id="t43" x="84.30" y="158.30" font-size="7.6" textLength="20.50" lengthAdjust="spacingAndGlyphs" stroke="#111" stroke-width="0.15" >r=2.56</text>
<text id="t44" x="126.50" y="158.30" font-size="7.6" textLength="20.50" lengthAdjust="spacingAndGlyphs" stroke="#111" stroke-width="0.15" >r=1.97</text>
<text id="t45" x="85.00" y="208.60" font-size="7.6" textLength="20.30" lengthAdjust="spacingAndGlyphs" stroke="#111" stroke-width="0.15" >r=4.36</text>
<text id="t46" x="127.00" y="208.60" font-size="7.6" textLength="20.30" lengthAdjust="spacingAndGlyphs" stroke="#111" stroke-width="0.15" >r=2.09</text>
<text id="t47" x="66.80" y="215.80" font-size="8.0" text-anchor="end" textLength="36.00" lengthAdjust="spacingAndGlyphs" stroke="#111" stroke-width="0.15" >+ Nutlin3a</text>
<text id="t48" x="109.80" y="241.70" font-size="8.3" text-anchor="middle" textLength="31.60" lengthAdjust="spacingAndGlyphs" stroke="#111" stroke-width="0.15" >DR5/cont</text>
<text id="t49" x="205.20" y="141.60" font-size="8.3" text-anchor="middle" textLength="14.40" lengthAdjust="spacingAndGlyphs" stroke="#111" stroke-width="0.15" >BCN</text>
<text id="t50" x="246.70" y="141.30" font-size="8.3" text-anchor="middle" textLength="11.20" lengthAdjust="spacingAndGlyphs" stroke="#111" stroke-width="0.15" >LP1</text>
<text id="t51" x="190.80" y="157.00" font-size="7.6" textLength="14.50" lengthAdjust="spacingAndGlyphs" stroke="#111" stroke-width="0.15" >r=66</text>
<text id="t52" x="234.80" y="157.50" font-size="7.6" textLength="14.10" lengthAdjust="spacingAndGlyphs" stroke="#111" stroke-width="0.15" >r=38</text>
<text id="t53" x="190.00" y="201.60" font-size="7.6" textLength="14.40" lengthAdjust="spacingAndGlyphs" stroke="#111" stroke-width="0.15" >r=37</text>
<text id="t54" x="235.20" y="204.10" font-size="7.6" textLength="13.50" lengthAdjust="spacingAndGlyphs" stroke="#111" stroke-width="0.15" >r=37</text>
<text id="t55" x="226.00" y="241.70" font-size="8.3" text-anchor="middle" textLength="36.00" lengthAdjust="spacingAndGlyphs" stroke="#111" stroke-width="0.15" >CD46/cont</text>
<text id="t56" x="332.50" y="138.60" font-size="8.3" text-anchor="middle" textLength="14.40" lengthAdjust="spacingAndGlyphs" stroke="#111" stroke-width="0.15" >BCN</text>
<text id="t57" x="431.00" y="138.20" font-size="8.3" text-anchor="middle" textLength="11.40" lengthAdjust="spacingAndGlyphs" stroke="#111" stroke-width="0.15" >LP1</text>
<text id="t58" x="332.30" y="241.60" font-size="8.3" text-anchor="middle" textLength="28.60" lengthAdjust="spacingAndGlyphs" stroke="#111" stroke-width="0.15" >MV/cont</text>
<text id="t59" x="431.50" y="241.60" font-size="8.3" text-anchor="middle" textLength="29.20" lengthAdjust="spacingAndGlyphs" stroke="#111" stroke-width="0.15" >MV/cont</text>
<line x1="304.20" y1="154.40" x2="330.30" y2="154.40" stroke="#444" stroke-width="1.5"/>
<text id="t60" x="317.50" y="151.80" font-size="8.3" text-anchor="middle" textLength="13.30" lengthAdjust="spacingAndGlyphs" stroke="#111" stroke-width="0.15" >36%</text>
<text id="t61" x="317.50" y="163.20" font-size="7.9" text-anchor="middle" textLength="14.50" lengthAdjust="spacingAndGlyphs" stroke="#111" stroke-width="0.15" >r=40</text>
<line x1="350.50" y1="154.00" x2="377.00" y2="154.00" stroke="#444" stroke-width="1.5"/>
<text id="t62" x="363.80" y="151.80" font-size="8.3" text-anchor="middle" textLength="13.30" lengthAdjust="spacingAndGlyphs" stroke="#111" stroke-width="0.15" >39%</text>
<text id="t63" x="363.80" y="163.30" font-size="7.9" text-anchor="middle" textLength="14.50" lengthAdjust="spacingAndGlyphs" stroke="#111" stroke-width="0.15" >r=42</text>
<line x1="399.50" y1="158.90" x2="429.00" y2="158.90" stroke="#444" stroke-width="1.5"/>
<text id="t64" x="413.80" y="156.40" font-size="8.3" text-anchor="middle" textLength="13.30" lengthAdjust="spacingAndGlyphs" stroke="#111" stroke-width="0.15" >39%</text>
<text id="t65" x="413.80" y="167.60" font-size="7.9" text-anchor="middle" textLength="14.50" lengthAdjust="spacingAndGlyphs" stroke="#111" stroke-width="0.15" >r=35</text>
<line x1="444.00" y1="158.60" x2="475.90" y2="158.60" stroke="#444" stroke-width="1.5"/>
<text id="t66" x="460.70" y="156.30" font-size="8.3" text-anchor="middle" textLength="13.30" lengthAdjust="spacingAndGlyphs" stroke="#111" stroke-width="0.15" >39%</text>
<text id="t67" x="460.70" y="167.00" font-size="7.9" text-anchor="middle" textLength="14.50" lengthAdjust="spacingAndGlyphs" stroke="#111" stroke-width="0.15" >r=40</text>
<line x1="304.20" y1="204.20" x2="330.30" y2="204.20" stroke="#444" stroke-width="1.5"/>
<text id="t68" x="317.70" y="201.60" font-size="8.3" text-anchor="middle" textLength="13.30" lengthAdjust="spacingAndGlyphs" stroke="#111" stroke-width="0.15" >25%</text>
<text id="t69" x="317.70" y="212.90" font-size="7.9" text-anchor="middle" textLength="14.50" lengthAdjust="spacingAndGlyphs" stroke="#111" stroke-width="0.15" >r=17</text>
<line x1="350.30" y1="204.20" x2="377.00" y2="204.20" stroke="#444" stroke-width="1.5"/>
<text id="t70" x="363.80" y="201.60" font-size="8.3" text-anchor="middle" textLength="13.30" lengthAdjust="spacingAndGlyphs" stroke="#111" stroke-width="0.15" >24%</text>
<text id="t71" x="363.80" y="212.90" font-size="7.9" text-anchor="middle" textLength="14.50" lengthAdjust="spacingAndGlyphs" stroke="#111" stroke-width="0.15" >r=19</text>
<line x1="400.30" y1="206.50" x2="429.00" y2="206.50" stroke="#444" stroke-width="1.5"/>
<text id="t72" x="414.40" y="203.60" font-size="8.3" text-anchor="middle" textLength="13.30" lengthAdjust="spacingAndGlyphs" stroke="#111" stroke-width="0.15" >33%</text>
<text id="t73" x="414.40" y="214.80" font-size="7.9" text-anchor="middle" textLength="14.50" lengthAdjust="spacingAndGlyphs" stroke="#111" stroke-width="0.15" >r=34</text>
<line x1="446.50" y1="206.50" x2="475.90" y2="206.50" stroke="#444" stroke-width="1.5"/>
<text id="t74" x="460.50" y="203.60" font-size="8.3" text-anchor="middle" textLength="13.30" lengthAdjust="spacingAndGlyphs" stroke="#111" stroke-width="0.15" >40%</text>
<text id="t75" x="460.50" y="214.80" font-size="7.9" text-anchor="middle" textLength="14.50" lengthAdjust="spacingAndGlyphs" stroke="#111" stroke-width="0.15" >r=34</text>
<text id="t76" x="8.30" y="270.60" font-size="11.4" >D</text>
<text id="t77" x="16.30" y="371.80" font-size="9.2" textLength="98.90" lengthAdjust="spacingAndGlyphs" transform="rotate(-90 16.30 371.80)" stroke="#111" stroke-width="0.1" >mRNA (Nutlin3a/control)</text>
<line x1="38.50" y1="280.00" x2="38.50" y2="318.90" stroke="#111" stroke-width="1.3"/>
<line x1="36.00" y1="318.90" x2="40.80" y2="318.90" stroke="#111" stroke-width="1.2"/>
<line x1="38.50" y1="325.60" x2="38.50" y2="361.40" stroke="#111" stroke-width="1.3"/>
<line x1="36.00" y1="325.60" x2="40.80" y2="325.60" stroke="#111" stroke-width="1.2"/>
<line x1="35.00" y1="283.00" x2="38.50" y2="283.00" stroke="#111" stroke-width="1.0"/>
<text id="t78" x="32.60" y="285.90" font-size="8.4" text-anchor="end" stroke="#111" stroke-width="0.15" >8</text>
<line x1="35.00" y1="294.90" x2="38.50" y2="294.90" stroke="#111" stroke-width="1.0"/>
<text id="t79" x="32.60" y="297.80" font-size="8.4" text-anchor="end" stroke="#111" stroke-width="0.15" >6</text>
<line x1="35.00" y1="306.80" x2="38.50" y2="306.80" stroke="#111" stroke-width="1.0"/>
<text id="t80" x="32.60" y="309.70" font-size="8.4" text-anchor="end" stroke="#111" stroke-width="0.15" >4</text>
<line x1="35.00" y1="318.70" x2="38.50" y2="318.70" stroke="#111" stroke-width="1.0"/>
<text id="t81" x="32.60" y="321.60" font-size="8.4" text-anchor="end" stroke="#111" stroke-width="0.15" >2</text>
<line x1="35.00" y1="325.60" x2="38.50" y2="325.60" stroke="#111" stroke-width="1.0"/>
<text id="t82" x="32.00" y="328.50" font-size="8.4" text-anchor="end" textLength="9.80" lengthAdjust="spacingAndGlyphs" stroke="#111" stroke-width="0.15" >1.7</text>
<line x1="35.00" y1="337.30" x2="38.50" y2="337.30" stroke="#111" stroke-width="1.0"/>
<text id="t83" x="32.00" y="340.20" font-size="8.4" text-anchor="end" textLength="9.80" lengthAdjust="spacingAndGlyphs" stroke="#111" stroke-width="0.15" >1.3</text>
<line x1="35.00" y1="349.10" x2="38.50" y2="349.10" stroke="#111" stroke-width="1.0"/>
<text id="t84" x="32.00" y="352.00" font-size="8.4" text-anchor="end" textLength="9.80" lengthAdjust="spacingAndGlyphs" stroke="#111" stroke-width="0.15" >0.9</text>
<line x1="35.00" y1="360.80" x2="38.50" y2="360.80" stroke="#111" stroke-width="1.0"/>
<text id="t85" x="32.00" y="363.70" font-size="8.4" text-anchor="end" textLength="9.80" lengthAdjust="spacingAndGlyphs" stroke="#111" stroke-width="0.15" >0.5</text>
<line x1="38.50" y1="360.80" x2="90.00" y2="360.80" stroke="#111" stroke-width="1.3"/>
<line x1="46.50" y1="290.60" x2="46.50" y2="302.30" stroke="#b5163c" stroke-width="1.0"/>
<line x1="44.20" y1="290.60" x2="48.80" y2="290.60" stroke="#b5163c" stroke-width="1.2"/>
<rect x="42.10" y="302.30" width="8.80" height="16.20" fill="#d8968b" stroke="none" stroke-width="1"/>
<line x1="42.10" y1="311.30" x2="50.90" y2="311.30" stroke="#b5163c" stroke-width="1.5"/>
<line x1="46.50" y1="329.70" x2="46.50" y2="330.60" stroke="#b5163c" stroke-width="1.0"/>
<line x1="44.00" y1="330.60" x2="49.00" y2="330.60" stroke="#b5163c" stroke-width="1.2"/>
<rect x="42.10" y="326.10" width="8.80" height="3.60" fill="#d8968b" stroke="none" stroke-width="1"/>
<line x1="58.55" y1="326.30" x2="58.55" y2="329.20" stroke="#b5163c" stroke-width="1.0"/>
<line x1="56.25" y1="326.30" x2="60.85" y2="326.30" stroke="#b5163c" stroke-width="1.2"/>
<line x1="58.55" y1="348.10" x2="58.55" y2="350.40" stroke="#b5163c" stroke-width="1.0"/>
<line x1="56.25" y1="350.40" x2="60.85" y2="350.40" stroke="#b5163c" stroke-width="1.2"/>
<rect x="54.20" y="329.20" width="8.70" height="18.90" fill="#d8968b" stroke="none" stroke-width="1"/>
<line x1="54.20" y1="340.40" x2="62.90" y2="340.40" stroke="#b5163c" stroke-width="1.5"/>
<line x1="70.80" y1="347.60" x2="70.80" y2="349.40" stroke="#34508f" stroke-width="1.0"/>
<line x1="68.30" y1="347.60" x2="73.30" y2="347.60" stroke="#34508f" stroke-width="1.2"/>
<line x1="70.80" y1="353.50" x2="70.80" y2="360.80" stroke="#34508f" stroke-width="1.0"/>
<line x1="68.30" y1="360.80" x2="73.30" y2="360.80" stroke="#34508f" stroke-width="1.2"/>
<rect x="66.50" y="349.40" width="8.60" height="4.10" fill="#8e98c5" stroke="none" stroke-width="1"/>
<line x1="66.50" y1="350.80" x2="75.10" y2="350.80" stroke="#34508f" stroke-width="1.5"/>
<line x1="82.55" y1="339.90" x2="82.55" y2="341.50" stroke="#34508f" stroke-width="1.0"/>
<line x1="80.25" y1="339.90" x2="84.85" y2="339.90" stroke="#34508f" stroke-width="1.2"/>
<line x1="82.55" y1="347.60" x2="82.55" y2="348.80" stroke="#34508f" stroke-width="1.0"/>
<line x1="80.25" y1="348.80" x2="84.85" y2="348.80" stroke="#34508f" stroke-width="1.2"/>
<rect x="78.20" y="341.50" width="8.70" height="6.10" fill="#8e98c5" stroke="none" stroke-width="1"/>
<line x1="78.20" y1="343.30" x2="86.90" y2="343.30" stroke="#34508f" stroke-width="1.5"/>
<path d="M45.40,288.10 Q45.40,286.60 46.40,286.60 L58.70,286.60 Q59.70,286.60 59.70,288.10" fill="none" stroke="#222" stroke-width="1.1"/>
<text id="t86" x="52.40" y="287.20" font-size="7.0" text-anchor="middle" stroke="#111" stroke-width="0.15" >*</text>
<path d="M70.00,336.50 Q70.00,335.00 71.00,335.00 L82.00,335.00 Q83.00,335.00 83.00,336.50" fill="none" stroke="#222" stroke-width="1.1"/>
<text id="t87" x="76.80" y="335.90" font-size="7.0" text-anchor="middle" stroke="#111" stroke-width="0.15" >*</text>
<rect x="63.90" y="292.50" width="4.20" height="4.00" fill="#fff" stroke="#b5163c" stroke-width="1.2"/>
<rect x="63.90" y="303.60" width="4.20" height="4.00" fill="#fff" stroke="#34508f" stroke-width="1.2"/>
<text id="t88" x="71.30" y="297.40" font-size="7.6" textLength="33.00" lengthAdjust="spacingAndGlyphs" stroke="#111" stroke-width="0.15" >TNFRS10B</text>
<text id="t89" x="71.60" y="308.10" font-size="7.6" textLength="17.40" lengthAdjust="spacingAndGlyphs" stroke="#111" stroke-width="0.15" >CD46</text>
<g id="t90" transform="translate(48.00 366.80) rotate(-45)">
<text x="-6.60" y="-0.90" font-size="5.7" textLength="6.60" lengthAdjust="spacingAndGlyphs" fill="#111" stroke="#111" stroke-width="0.15">wt</text>
<text x="-24.30" y="3.00" font-size="8.7" text-anchor="start" textLength="17.40" lengthAdjust="spacingAndGlyphs" fill="#111" stroke="#111" stroke-width="0.2">TP53</text>
</g>
<g id="t91" transform="translate(60.50 366.20) rotate(-45)">
<text x="-10.20" y="-0.90" font-size="5.7" textLength="10.20" lengthAdjust="spacingAndGlyphs" fill="#111" stroke="#111" stroke-width="0.15">abn</text>
<text x="-27.90" y="3.00" font-size="8.7" text-anchor="start" textLength="17.40" lengthAdjust="spacingAndGlyphs" fill="#111" stroke="#111" stroke-width="0.2">TP53</text>
</g>
<g id="t92" transform="translate(72.00 367.00) rotate(-45)">
<text x="-6.60" y="-0.90" font-size="5.7" textLength="6.60" lengthAdjust="spacingAndGlyphs" fill="#111" stroke="#111" stroke-width="0.15">wt</text>
<text x="-24.30" y="3.00" font-size="8.7" text-anchor="start" textLength="17.40" lengthAdjust="spacingAndGlyphs" fill="#111" stroke="#111" stroke-width="0.2">TP53</text>
</g>
<g id="t93" transform="translate(84.60 366.20) rotate(-45)">
<text x="-10.20" y="-0.90" font-size="5.7" textLength="10.20" lengthAdjust="spacingAndGlyphs" fill="#111" stroke="#111" stroke-width="0.15">abn</text>
<text x="-27.90" y="3.00" font-size="8.7" text-anchor="start" textLength="17.40" lengthAdjust="spacingAndGlyphs" fill="#111" stroke="#111" stroke-width="0.2">TP53</text>
</g>
<text id="t94" x="125.80" y="270.70" font-size="11.4" >E</text>
<text id="t95" x="136.70" y="310.20" font-size="7.6" textLength="12.20" lengthAdjust="spacingAndGlyphs" transform="rotate(-90 136.70 310.20)" stroke="#111" stroke-width="0.15" >siCt</text>
<text id="t96" x="150.90" y="308.70" font-size="7.6" textLength="21.30" lengthAdjust="spacingAndGlyphs" transform="rotate(-90 150.90 308.70)" stroke="#111" stroke-width="0.15" >siTP53</text>
<text id="t97" x="166.90" y="295.70" font-size="7.6" textLength="12.30" lengthAdjust="spacingAndGlyphs" stroke="#111" stroke-width="0.15" >siCt</text>
<text id="t98" x="190.00" y="295.70" font-size="7.6" textLength="22.00" lengthAdjust="spacingAndGlyphs" stroke="#111" stroke-width="0.15" >siTP53</text>
<line x1="163.80" y1="302.30" x2="183.40" y2="302.30" stroke="#333" stroke-width="1.3"/>
<line x1="189.20" y1="302.30" x2="208.50" y2="302.30" stroke="#333" stroke-width="1.3"/>
<text id="t99" x="166.90" y="311.20" font-size="7.6" text-anchor="middle" stroke="#111" stroke-width="0.15" >-</text>
<text id="t100" x="181.50" y="311.20" font-size="8.4" text-anchor="middle" stroke="#111" stroke-width="0.15" >+</text>
<text id="t101" x="192.00" y="311.20" font-size="7.6" text-anchor="middle" stroke="#111" stroke-width="0.15" >-</text>
<text id="t102" x="206.90" y="311.20" font-size="8.4" text-anchor="middle" stroke="#111" stroke-width="0.15" >+</text>
<text id="t103" x="218.00" y="309.00" font-size="8.2" textLength="29.00" lengthAdjust="spacingAndGlyphs" stroke="#111" stroke-width="0.15" >Nutlin3a</text>
<text id="t104" x="218.00" y="322.70" font-size="8.4" textLength="22.60" lengthAdjust="spacingAndGlyphs" stroke="#111" stroke-width="0.15" >MDM2</text>
<text id="t105" x="218.00" y="333.40" font-size="8.4" textLength="13.00" lengthAdjust="spacingAndGlyphs" stroke="#111" stroke-width="0.15" >p53</text>
<text id="t106" x="218.00" y="344.90" font-size="8.4" textLength="12.50" lengthAdjust="spacingAndGlyphs" stroke="#111" stroke-width="0.15" >p21</text>
<text id="t107" x="218.00" y="356.50" font-size="8.4" textLength="19.00" lengthAdjust="spacingAndGlyphs" stroke="#111" stroke-width="0.15" >actin</text>
<defs><filter id="bl" x="-20%" y="-50%" width="140%" height="200%"><feGaussianBlur stdDeviation="0.7"/></filter><filter id="bl2" x="-20%" y="-50%" width="140%" height="200%"><feGaussianBlur stdDeviation="0.5"/></filter></defs>
<rect x="126.30" y="316.20" width="27.90" height="8.40" fill="#ededed" filter="url(#bl2)"/>
<rect x="126.30" y="327.90" width="27.90" height="8.00" fill="#ededed" filter="url(#bl2)"/>
<rect x="126.30" y="339.40" width="27.90" height="8.10" fill="#ededed" filter="url(#bl2)"/>
<rect x="126.30" y="350.40" width="27.90" height="8.20" fill="#ededed" filter="url(#bl2)"/>
<rect x="127.45" y="319.60" width="11.50" height="2.80" rx="1.40" fill="#8c8c8c" filter="url(#bl)"/>
<rect x="141.50" y="319.80" width="11.00" height="2.20" rx="1.10" fill="#a2a2a2" filter="url(#bl)"/>
<rect x="127.70" y="331.10" width="11.00" height="2.20" rx="1.10" fill="#a0a0a0" filter="url(#bl)"/>
<rect x="141.75" y="331.60" width="10.50" height="1.60" rx="0.80" fill="#dadada" filter="url(#bl)"/>
<rect x="127.45" y="342.20" width="11.50" height="2.40" rx="1.20" fill="#8e8e8e" filter="url(#bl)"/>
<rect x="141.50" y="342.30" width="11.00" height="2.00" rx="1.00" fill="#aaaaaa" filter="url(#bl)"/>
<rect x="126.95" y="352.40" width="12.50" height="3.00" rx="1.50" fill="#181818" filter="url(#bl)"/>
<rect x="141.00" y="352.40" width="12.00" height="3.00" rx="1.50" fill="#1a1a1a" filter="url(#bl)"/>
<rect x="159.20" y="316.20" width="55.00" height="8.40" fill="#ededed" filter="url(#bl2)"/>
<rect x="159.20" y="327.90" width="55.00" height="8.00" fill="#ededed" filter="url(#bl2)"/>
<rect x="159.20" y="339.40" width="55.00" height="8.10" fill="#ededed" filter="url(#bl2)"/>
<rect x="159.20" y="350.40" width="55.00" height="8.20" fill="#ededed" filter="url(#bl2)"/>
<rect x="160.80" y="318.75" width="11.00" height="1.50" rx="0.75" fill="#bcbcbc" filter="url(#bl)"/>
<rect x="160.80" y="321.85" width="11.00" height="1.50" rx="0.75" fill="#c4c4c4" filter="url(#bl)"/>
<rect x="173.60" y="317.50" width="12.00" height="6.40" rx="2.50" fill="#030303" filter="url(#bl)"/>
<rect x="187.55" y="319.50" width="10.50" height="1.60" rx="0.80" fill="#c6c6c6" filter="url(#bl)"/>
<rect x="200.85" y="318.90" width="11.50" height="3.00" rx="1.50" fill="#767676" filter="url(#bl)"/>
<rect x="161.05" y="331.70" width="10.50" height="1.60" rx="0.80" fill="#c2c2c2" filter="url(#bl)"/>
<rect x="173.60" y="330.60" width="12.00" height="4.00" rx="2.00" fill="#080808" filter="url(#bl)"/>
<rect x="187.80" y="332.50" width="10.00" height="1.40" rx="0.70" fill="#d4d4d4" filter="url(#bl)"/>
<rect x="201.35" y="331.90" width="10.50" height="2.00" rx="1.00" fill="#a4a4a4" filter="url(#bl)"/>
<rect x="161.05" y="343.00" width="10.50" height="1.80" rx="0.90" fill="#b6b6b6" filter="url(#bl)"/>
<rect x="173.60" y="342.20" width="12.00" height="3.40" rx="1.70" fill="#1c1c1c" filter="url(#bl)"/>
<rect x="187.55" y="343.20" width="10.50" height="2.00" rx="1.00" fill="#b0b0b0" filter="url(#bl)"/>
<rect x="200.85" y="342.60" width="11.50" height="2.60" rx="1.30" fill="#525252" filter="url(#bl)"/>
<rect x="160.05" y="353.40" width="12.50" height="3.00" rx="1.50" fill="#151515" filter="url(#bl)"/>
<rect x="173.35" y="353.50" width="12.50" height="3.00" rx="1.50" fill="#151515" filter="url(#bl)"/>
<rect x="186.55" y="353.80" width="12.50" height="3.00" rx="1.50" fill="#151515" filter="url(#bl)"/>
<rect x="200.35" y="353.50" width="12.50" height="3.00" rx="1.50" fill="#151515" filter="url(#bl)"/>
<text id="t108" x="264.80" y="270.70" font-size="11.4" >F</text>
<line x1="287.70" y1="285.60" x2="287.70" y2="361.70" stroke="#111" stroke-width="1.3"/>
<line x1="284.50" y1="288.70" x2="287.70" y2="288.70" stroke="#111" stroke-width="1.0"/>
<text id="t109" x="281.60" y="291.42" font-size="8.0" text-anchor="end" stroke="#111" stroke-width="0.15" >8</text>
<line x1="284.50" y1="306.80" x2="287.70" y2="306.80" stroke="#111" stroke-width="1.0"/>
<text id="t110" x="281.60" y="309.52" font-size="8.0" text-anchor="end" stroke="#111" stroke-width="0.15" >7</text>
<line x1="284.50" y1="324.90" x2="287.70" y2="324.90" stroke="#111" stroke-width="1.0"/>
<text id="t111" x="281.60" y="327.62" font-size="8.0" text-anchor="end" stroke="#111" stroke-width="0.15" >6</text>
<line x1="284.50" y1="343.00" x2="287.70" y2="343.00" stroke="#111" stroke-width="1.0"/>
<text id="t112" x="281.60" y="345.72" font-size="8.0" text-anchor="end" stroke="#111" stroke-width="0.15" >5</text>
<line x1="284.50" y1="361.10" x2="287.70" y2="361.10" stroke="#111" stroke-width="1.0"/>
<text id="t113" x="281.60" y="363.82" font-size="8.0" text-anchor="end" stroke="#111" stroke-width="0.15" >4</text>
<line x1="287.70" y1="361.00" x2="325.70" y2="361.00" stroke="#111" stroke-width="1.3"/>
<text id="t114" x="271.00" y="344.60" font-size="9.0" textLength="43.50" lengthAdjust="spacingAndGlyphs" transform="rotate(-90 271.00 344.60)" stroke="#111" stroke-width="0.1" >DR5 (MFIR)</text>
<text id="t115" x="298.00" y="297.00" font-size="7.6" textLength="25.60" lengthAdjust="spacingAndGlyphs" stroke="#111" stroke-width="0.15" >p=0.006</text>
<line x1="298.60" y1="304.30" x2="315.20" y2="335.30" stroke="#111" stroke-width="1.0"/>
<line x1="298.60" y1="317.90" x2="315.20" y2="350.60" stroke="#111" stroke-width="1.0"/>
<line x1="298.60" y1="321.20" x2="315.20" y2="340.20" stroke="#111" stroke-width="1.0"/>
<line x1="298.60" y1="326.20" x2="315.20" y2="335.80" stroke="#111" stroke-width="1.0"/>
<line x1="298.60" y1="331.20" x2="315.20" y2="356.10" stroke="#111" stroke-width="1.0"/>
<circle cx="298.60" cy="304.30" r="1.7" fill="#a8081f"/>
<circle cx="315.20" cy="335.30" r="1.7" fill="#a8081f"/>
<circle cx="298.60" cy="317.90" r="1.7" fill="#a8081f"/>
<circle cx="315.20" cy="350.60" r="1.7" fill="#a8081f"/>
<circle cx="298.60" cy="321.20" r="1.7" fill="#a8081f"/>
<circle cx="315.20" cy="340.20" r="1.7" fill="#a8081f"/>
<circle cx="298.60" cy="326.20" r="1.7" fill="#a8081f"/>
<circle cx="315.20" cy="335.80" r="1.7" fill="#a8081f"/>
<circle cx="298.60" cy="331.20" r="1.7" fill="#a8081f"/>
<circle cx="315.20" cy="356.10" r="1.7" fill="#a8081f"/>
<line x1="362.00" y1="285.60" x2="362.00" y2="361.70" stroke="#111" stroke-width="1.3"/>
<line x1="358.80" y1="288.10" x2="362.00" y2="288.10" stroke="#111" stroke-width="1.0"/>
<text id="t116" x="355.60" y="290.96" font-size="8.4" text-anchor="end" textLength="8.40" lengthAdjust="spacingAndGlyphs" stroke="#111" stroke-width="0.15" >75</text>
<line x1="358.80" y1="312.60" x2="362.00" y2="312.60" stroke="#111" stroke-width="1.0"/>
<text id="t117" x="355.60" y="315.46" font-size="8.4" text-anchor="end" textLength="8.40" lengthAdjust="spacingAndGlyphs" stroke="#111" stroke-width="0.15" >65</text>
<line x1="358.80" y1="337.00" x2="362.00" y2="337.00" stroke="#111" stroke-width="1.0"/>
<text id="t118" x="355.60" y="339.86" font-size="8.4" text-anchor="end" textLength="8.40" lengthAdjust="spacingAndGlyphs" stroke="#111" stroke-width="0.15" >55</text>
<line x1="358.80" y1="361.10" x2="362.00" y2="361.10" stroke="#111" stroke-width="1.0"/>
<text id="t119" x="355.60" y="363.96" font-size="8.4" text-anchor="end" textLength="8.40" lengthAdjust="spacingAndGlyphs" stroke="#111" stroke-width="0.15" >45</text>
<line x1="362.00" y1="361.00" x2="400.50" y2="361.00" stroke="#111" stroke-width="1.3"/>
<text id="t120" x="341.00" y="348.10" font-size="9.0" textLength="49.50" lengthAdjust="spacingAndGlyphs" transform="rotate(-90 341.00 348.10)" stroke="#111" stroke-width="0.1" >CD46 (MFIR)</text>
<text id="t121" x="370.50" y="297.20" font-size="7.6" textLength="25.60" lengthAdjust="spacingAndGlyphs" stroke="#111" stroke-width="0.15" >p=0.028</text>
<line x1="371.70" y1="330.50" x2="390.90" y2="318.30" stroke="#111" stroke-width="1.0"/>
<line x1="371.70" y1="334.20" x2="390.90" y2="310.50" stroke="#111" stroke-width="1.0"/>
<line x1="371.70" y1="338.80" x2="390.90" y2="321.90" stroke="#111" stroke-width="1.0"/>
<line x1="371.70" y1="350.00" x2="390.90" y2="341.60" stroke="#111" stroke-width="1.0"/>
<circle cx="371.70" cy="330.50" r="1.7" fill="#a8081f"/>
<circle cx="390.90" cy="318.30" r="1.7" fill="#a8081f"/>
<circle cx="371.70" cy="334.20" r="1.7" fill="#a8081f"/>
<circle cx="390.90" cy="310.50" r="1.7" fill="#a8081f"/>
<circle cx="371.70" cy="338.80" r="1.7" fill="#a8081f"/>
<circle cx="390.90" cy="321.90" r="1.7" fill="#a8081f"/>
<circle cx="371.70" cy="350.00" r="1.7" fill="#a8081f"/>
<circle cx="390.90" cy="341.60" r="1.7" fill="#a8081f"/>
<g id="t122" transform="translate(298.50 367.00) rotate(-45)">
<text x="-22.50" y="3.0" font-size="7.6" textLength="22.50" lengthAdjust="spacingAndGlyphs" fill="#111" stroke="#111" stroke-width="0.2">siCont</text>
</g>
<g id="t123" transform="translate(316.50 367.00) rotate(-45)">
<text x="-21.50" y="3.0" font-size="7.6" textLength="21.50" lengthAdjust="spacingAndGlyphs" fill="#111" stroke="#111" stroke-width="0.2">siTP53</text>
</g>
<g id="t124" transform="translate(373.30 367.00) rotate(-45)">
<text x="-22.50" y="3.0" font-size="7.6" textLength="22.50" lengthAdjust="spacingAndGlyphs" fill="#111" stroke="#111" stroke-width="0.2">siCont</text>
</g>
<g id="t125" transform="translate(391.20 367.00) rotate(-45)">
<text x="-21.50" y="3.0" font-size="7.6" textLength="21.50" lengthAdjust="spacingAndGlyphs" fill="#111" stroke="#111" stroke-width="0.2">siTP53</text>
</g>
<text id="t126" x="416.30" y="270.60" font-size="11.4" >G</text>
<line x1="445.80" y1="278.50" x2="445.80" y2="361.60" stroke="#111" stroke-width="1.3"/>
<line x1="442.60" y1="282.00" x2="445.80" y2="282.00" stroke="#111" stroke-width="1.0"/>
<text id="t127" x="438.90" y="284.92" font-size="8.6" text-anchor="end" textLength="7.60" lengthAdjust="spacingAndGlyphs" stroke="#111" stroke-width="0.15" >30</text>
<line x1="442.60" y1="308.30" x2="445.80" y2="308.30" stroke="#111" stroke-width="1.0"/>
<text id="t128" x="438.90" y="311.22" font-size="8.6" text-anchor="end" textLength="7.60" lengthAdjust="spacingAndGlyphs" stroke="#111" stroke-width="0.15" >20</text>
<line x1="442.60" y1="334.60" x2="445.80" y2="334.60" stroke="#111" stroke-width="1.0"/>
<text id="t129" x="438.90" y="337.52" font-size="8.6" text-anchor="end" textLength="7.60" lengthAdjust="spacingAndGlyphs" stroke="#111" stroke-width="0.15" >10</text>
<line x1="442.60" y1="361.00" x2="445.80" y2="361.00" stroke="#111" stroke-width="1.0"/>
<text id="t130" x="438.90" y="363.92" font-size="8.6" text-anchor="end" stroke="#111" stroke-width="0.15" >0</text>
<line x1="445.80" y1="361.00" x2="512.60" y2="361.00" stroke="#111" stroke-width="1.3"/>
<text id="t131" x="424.90" y="348.00" font-size="9.0" textLength="56.00" lengthAdjust="spacingAndGlyphs" transform="rotate(-90 424.90 348.00)" stroke="#111" stroke-width="0.1" >GFP+ cells (%)</text>
<rect x="464.60" y="263.90" width="4.60" height="4.60" fill="#fff" stroke="#b5163c" stroke-width="1.2"/>
<rect x="464.60" y="275.30" width="4.60" height="4.60" fill="#fff" stroke="#34508f" stroke-width="1.2"/>
<text id="t132" x="473.30" y="268.60" font-size="7.6" textLength="27.40" lengthAdjust="spacingAndGlyphs" stroke="#111" stroke-width="0.15" >siControl</text>
<text id="t133" x="473.30" y="280.20" font-size="7.6" textLength="19.70" lengthAdjust="spacingAndGlyphs" stroke="#111" stroke-width="0.15" >siTP53</text>
<line x1="456.75" y1="324.40" x2="456.75" y2="335.00" stroke="#b5163c" stroke-width="1.0"/>
<line x1="453.75" y1="324.40" x2="459.75" y2="324.40" stroke="#b5163c" stroke-width="1.2"/>
<line x1="456.75" y1="345.40" x2="456.75" y2="347.00" stroke="#b5163c" stroke-width="1.0"/>
<line x1="453.75" y1="347.00" x2="459.75" y2="347.00" stroke="#b5163c" stroke-width="1.2"/>
<rect x="451.20" y="335.00" width="11.10" height="10.40" fill="#d8968b" stroke="none" stroke-width="1"/>
<line x1="451.20" y1="341.30" x2="462.30" y2="341.30" stroke="#b5163c" stroke-width="1.5"/>
<line x1="473.00" y1="347.90" x2="473.00" y2="348.30" stroke="#b5163c" stroke-width="1.0"/>
<line x1="470.50" y1="347.90" x2="475.50" y2="347.90" stroke="#b5163c" stroke-width="1.2"/>
<line x1="473.00" y1="353.30" x2="473.00" y2="355.30" stroke="#b5163c" stroke-width="1.0"/>
<line x1="470.50" y1="355.30" x2="475.50" y2="355.30" stroke="#b5163c" stroke-width="1.2"/>
<rect x="467.20" y="348.30" width="11.60" height="5.00" fill="#d8968b" stroke="none" stroke-width="1"/>
<line x1="467.20" y1="350.80" x2="478.80" y2="350.80" stroke="#b5163c" stroke-width="1.5"/>
<line x1="489.00" y1="310.00" x2="489.00" y2="313.30" stroke="#34508f" stroke-width="1.0"/>
<line x1="486.00" y1="310.00" x2="492.00" y2="310.00" stroke="#34508f" stroke-width="1.2"/>
<line x1="489.00" y1="340.40" x2="489.00" y2="340.80" stroke="#34508f" stroke-width="1.0"/>
<line x1="486.00" y1="340.80" x2="492.00" y2="340.80" stroke="#34508f" stroke-width="1.2"/>
<rect x="483.20" y="313.30" width="11.60" height="27.10" fill="#8e98c5" stroke="none" stroke-width="1"/>
<line x1="483.20" y1="327.30" x2="494.80" y2="327.30" stroke="#34508f" stroke-width="1.5"/>
<line x1="505.35" y1="307.70" x2="505.35" y2="316.00" stroke="#34508f" stroke-width="1.0"/>
<line x1="502.55" y1="307.70" x2="508.15" y2="307.70" stroke="#34508f" stroke-width="1.2"/>
<line x1="505.35" y1="329.30" x2="505.35" y2="338.30" stroke="#34508f" stroke-width="1.0"/>
<line x1="502.55" y1="338.30" x2="508.15" y2="338.30" stroke="#34508f" stroke-width="1.2"/>
<rect x="499.80" y="316.00" width="11.10" height="13.30" fill="#8e98c5" stroke="none" stroke-width="1"/>
<line x1="499.80" y1="325.80" x2="510.90" y2="325.80" stroke="#34508f" stroke-width="1.5"/>
<path d="M456.20,289.60 Q456.20,288.10 457.20,288.10 L487.20,288.10 Q488.20,288.10 488.20,289.60" fill="none" stroke="#222" stroke-width="1.1"/>
<text id="t134" x="471.00" y="288.80" font-size="7.0" text-anchor="middle" stroke="#111" stroke-width="0.15" >*</text>
<path d="M472.00,297.50 Q472.00,296.00 473.00,296.00 L503.90,296.00 Q504.90,296.00 504.90,297.50" fill="none" stroke="#222" stroke-width="1.1"/>
<text id="t135" x="489.20" y="296.80" font-size="7.0" text-anchor="middle" stroke="#111" stroke-width="0.15" >*</text>
<path d="M487.30,304.90 Q487.30,303.40 488.30,303.40 L503.90,303.40 Q504.90,303.40 504.90,304.90" fill="none" stroke="#222" stroke-width="1.1"/>
<text id="t136" x="496.40" y="301.80" font-size="7.4" text-anchor="middle" stroke="#111" stroke-width="0.15" >ns</text>
<path d="M454.90,322.10 Q454.90,320.60 455.90,320.60 L470.70,320.60 Q471.70,320.60 471.70,322.10" fill="none" stroke="#222" stroke-width="1.1"/>
<text id="t137" x="463.10" y="320.80" font-size="7.0" text-anchor="middle" stroke="#111" stroke-width="0.15" >*</text>
<g id="t138" transform="translate(457.00 365.00) rotate(-45)">
<text x="-25.50" y="3.0" font-size="7.6" textLength="25.50" lengthAdjust="spacingAndGlyphs" fill="#111" stroke="#111" stroke-width="0.2">control</text>
</g>
<g id="t139" transform="translate(473.80 364.50) rotate(-45)">
<text x="-29.50" y="3.0" font-size="7.6" textLength="29.50" lengthAdjust="spacingAndGlyphs" fill="#111" stroke="#111" stroke-width="0.2">nutlin3a</text>
</g>
<g id="t140" transform="translate(489.70 364.50) rotate(-45)">
<text x="-25.50" y="3.0" font-size="7.6" textLength="25.50" lengthAdjust="spacingAndGlyphs" fill="#111" stroke="#111" stroke-width="0.2">control</text>
</g>
<g id="t141" transform="translate(506.80 364.50) rotate(-45)">
<text x="-29.50" y="3.0" font-size="7.6" textLength="29.50" lengthAdjust="spacingAndGlyphs" fill="#111" stroke="#111" stroke-width="0.2">nutlin3a</text>
</g>
<rect x="0.5" y="0.5" width="519" height="393" fill="none" stroke="#000" stroke-width="1.5"/>
</svg>
</body></html>
